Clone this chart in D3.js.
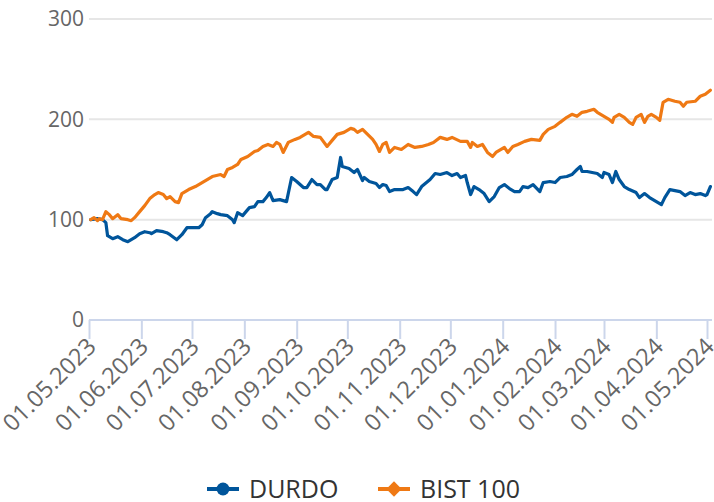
<!DOCTYPE html>
<html><head><meta charset="utf-8">
<script src="https://cdn.jsdelivr.net/npm/d3@7"></script>
<style>
html,body{margin:0;padding:0;background:#fff;}
svg{display:block;font-family:"Open Sans",sans-serif;}
</style></head>
<body><svg id="c" width="714" height="502"></svg>
<script>
const seriesNames = ["DURDO", "BIST 100"];
const seriesColors = ["#00559b", "#ef7914"];
const yTicks = [0, 100, 200, 300];
const xTickDates = ["2023-05-01","2023-06-01","2023-07-01","2023-08-01","2023-09-01","2023-10-01","2023-11-01","2023-12-01","2024-01-01","2024-02-01","2024-03-01","2024-04-01","2024-05-01"];

const durdoDates = ["2023-05-02","2023-05-06","2023-05-09","2023-05-11","2023-05-12","2023-05-15","2023-05-18","2023-05-21","2023-05-24","2023-05-26","2023-05-28","2023-05-31","2023-06-03","2023-06-06","2023-06-07","2023-06-10","2023-06-14","2023-06-16","2023-06-18","2023-06-22","2023-06-25","2023-06-28","2023-07-02","2023-07-05","2023-07-07","2023-07-09","2023-07-12","2023-07-13","2023-07-16","2023-07-18","2023-07-22","2023-07-25","2023-07-26","2023-07-28","2023-07-31","2023-08-04","2023-08-07","2023-08-09","2023-08-12","2023-08-14","2023-08-16","2023-08-18","2023-08-22","2023-08-26","2023-08-29","2023-09-01","2023-09-05","2023-09-07","2023-09-10","2023-09-13","2023-09-15","2023-09-18","2023-09-19","2023-09-22","2023-09-25","2023-09-27","2023-09-28","2023-10-02","2023-10-05","2023-10-07","2023-10-10","2023-10-11","2023-10-14","2023-10-18","2023-10-20","2023-10-22","2023-10-24","2023-10-26","2023-10-29","2023-11-03","2023-11-06","2023-11-09","2023-11-11","2023-11-14","2023-11-19","2023-11-22","2023-11-25","2023-11-29","2023-12-02","2023-12-05","2023-12-07","2023-12-10","2023-12-11","2023-12-13","2023-12-15","2023-12-18","2023-12-21","2023-12-24","2023-12-27","2023-12-30","2024-01-02","2024-01-05","2024-01-08","2024-01-11","2024-01-13","2024-01-16","2024-01-19","2024-01-23","2024-01-25","2024-01-29","2024-02-01","2024-02-04","2024-02-08","2024-02-11","2024-02-14","2024-02-16","2024-02-17","2024-02-20","2024-02-23","2024-02-26","2024-02-29","2024-03-01","2024-03-04","2024-03-06","2024-03-08","2024-03-10","2024-03-13","2024-03-16","2024-03-20","2024-03-22","2024-03-25","2024-03-28","2024-04-01","2024-04-04","2024-04-06","2024-04-09","2024-04-12","2024-04-15","2024-04-18","2024-04-21","2024-04-24","2024-04-27","2024-04-30","2024-05-01","2024-05-03"];
const durdoValues = [100,101,100,97,84,81,83,80,78,80,82,86,88,87,86,89,88,87,85,80,85,92,92,92,95,102,106,108,106,105,104,100,97,107,104,112,113,118,118,122,127,119,120,118,142,138,132,132,140,135,135,130,130,140,142,162,153,151,147,150,139,142,138,136,132,135,134,128,130,130,132,128,125,133,140,146,145,147,144,146,142,144,137,125,133,130,126,118,123,132,135,131,128,128,133,132,135,128,137,138,137,142,143,145,150,153,148,148,147,146,142,147,145,137,148,140,133,130,127,122,126,122,118,115,122,130,129,128,124,127,125,126,124,125,133];

const bistDates = ["2023-05-02","2023-05-04","2023-05-06","2023-05-07","2023-05-09","2023-05-11","2023-05-13","2023-05-15","2023-05-18","2023-05-20","2023-05-24","2023-05-26","2023-05-28","2023-05-31","2023-06-03","2023-06-06","2023-06-09","2023-06-11","2023-06-14","2023-06-16","2023-06-18","2023-06-21","2023-06-23","2023-06-25","2023-06-29","2023-07-03","2023-07-07","2023-07-10","2023-07-13","2023-07-18","2023-07-20","2023-07-22","2023-07-25","2023-07-28","2023-07-30","2023-08-03","2023-08-07","2023-08-09","2023-08-12","2023-08-15","2023-08-18","2023-08-20","2023-08-22","2023-08-24","2023-08-27","2023-08-31","2023-09-03","2023-09-08","2023-09-11","2023-09-15","2023-09-19","2023-09-22","2023-09-25","2023-09-29","2023-10-03","2023-10-05","2023-10-07","2023-10-10","2023-10-13","2023-10-16","2023-10-18","2023-10-20","2023-10-22","2023-10-24","2023-10-26","2023-10-29","2023-11-02","2023-11-06","2023-11-10","2023-11-14","2023-11-18","2023-11-21","2023-11-25","2023-11-29","2023-12-02","2023-12-07","2023-12-11","2023-12-13","2023-12-14","2023-12-17","2023-12-20","2023-12-23","2023-12-26","2023-12-28","2023-12-31","2024-01-02","2024-01-04","2024-01-07","2024-01-10","2024-01-14","2024-01-18","2024-01-23","2024-01-25","2024-01-28","2024-02-01","2024-02-04","2024-02-08","2024-02-11","2024-02-14","2024-02-17","2024-02-20","2024-02-24","2024-02-26","2024-02-29","2024-03-01","2024-03-04","2024-03-06","2024-03-07","2024-03-10","2024-03-13","2024-03-16","2024-03-18","2024-03-20","2024-03-23","2024-03-25","2024-03-27","2024-03-29","2024-04-01","2024-04-03","2024-04-05","2024-04-08","2024-04-12","2024-04-15","2024-04-17","2024-04-19","2024-04-24","2024-04-27","2024-04-30","2024-05-03"];
const bistValues = [100,102,99,101,100,108,105,101,105,101,100,99,102,108,114,121,125,127,125,121,123,118,117,126,130,133,137,140,143,145,143,150,152,155,160,163,168,169,173,175,173,177,175,167,177,180,182,187,183,182,173,179,185,187,191,190,187,190,185,180,175,168,175,177,167,172,170,175,172,173,175,177,182,180,182,178,178,172,177,173,175,167,163,167,170,172,167,173,175,178,180,179,185,190,193,197,202,205,203,207,208,210,207,204,203,200,197,202,205,202,197,195,202,205,197,203,205,202,199,217,220,218,217,213,217,218,223,225,229];

const svg = d3.select("#c");
const parse = d3.timeParse("%Y-%m-%d");
const fmt = d3.timeFormat("%d.%m.%Y");

const x = d3.scaleTime().domain([parse(xTickDates[0]), parse(xTickDates[xTickDates.length-1])]).range([89, 707]);
const y = d3.scaleLinear().domain([0, 300]).range([320, 19]);

// grid
svg.append("g").selectAll("line").data(yTicks.filter(d => d > 0)).join("line")
  .attr("x1", 89).attr("x2", 712).attr("y1", d => y(d)).attr("y2", d => y(d))
  .attr("stroke", "#e6e6e6").attr("stroke-width", 2);

// y labels
svg.append("g").selectAll("text").data(yTicks).join("text")
  .attr("x", 84).attr("y", d => y(d)).attr("dy", "0.35em")
  .attr("text-anchor", "end").attr("fill", "#666666").attr("font-size", 21)
  .text(d => d);

// x axis
const xAxis = d3.axisBottom(x).tickValues(xTickDates.map(parse)).tickSize(19).tickFormat(fmt);
const gx = svg.append("g").attr("transform", "translate(0,320)").call(xAxis);
gx.select(".domain").attr("d", "M89,0H712").attr("stroke", "#ccd6eb").attr("stroke-width", 2);
gx.selectAll(".tick line").attr("stroke", "#ccd6eb").attr("stroke-width", 2);
gx.selectAll(".tick text")
  .attr("font-family", "Open Sans, sans-serif").attr("font-size", 23.5).attr("fill", "#666666")
  .attr("text-anchor", "end").attr("dy", null).attr("y", null)
  .attr("transform", "translate(8,28) rotate(-45)");

// lines
const line = d3.line().x(d => x(d[0])).y(d => y(d[1])).curve(d3.curveLinear);
const durdo = durdoDates.map((d, i) => [parse(d), durdoValues[i]]);
const bist = bistDates.map((d, i) => [parse(d), bistValues[i]]);
[durdo, bist].forEach((s, i) => {
  svg.append("path").datum(s).attr("d", line).attr("fill", "none")
    .attr("stroke", seriesColors[i]).attr("stroke-width", 3.2)
    .attr("stroke-linejoin", "round").attr("stroke-linecap", "round");
});

// legend
const lg = svg.append("g");
const legX = [207, 378];
seriesNames.forEach((n, i) => {
  const g = lg.append("g").attr("transform", `translate(${legX[i]},489)`);
  g.append("line").attr("x1", 0).attr("x2", 32).attr("y1", 0).attr("y2", 0)
    .attr("stroke", seriesColors[i]).attr("stroke-width", 4);
  if (i === 0) g.append("circle").attr("cx", 16).attr("cy", 0).attr("r", 6.5).attr("fill", seriesColors[i]);
  else g.append("path").attr("d", d3.symbol(d3.symbolDiamond2, 150)()).attr("transform", "translate(16,0)").attr("fill", seriesColors[i]);
  g.append("text").attr("x", 42).attr("y", 0).attr("dy", "0.35em")
    .attr("font-size", 25).attr("fill", "#333333").text(n);
});
</script></body></html>
